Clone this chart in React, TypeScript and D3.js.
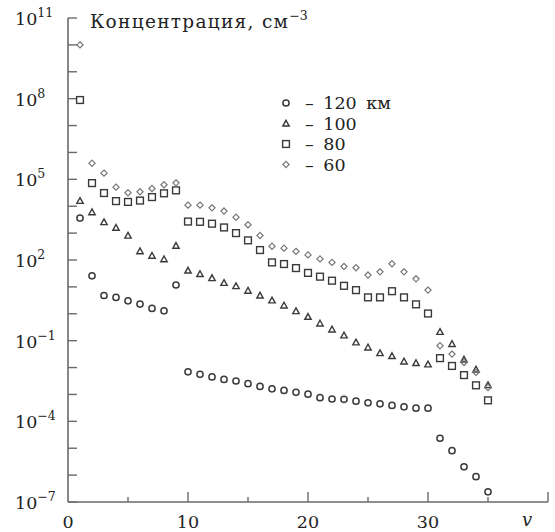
import React from 'react';
import * as d3 from 'd3';

// v = 1..35, concentration stored as log10 values (cm^-3)
const vValues = d3.range(1, 36);

const km120 = [3.56, 1.41, 0.68, 0.61, 0.48, 0.36, 0.2, 0.11, 1.07, -2.16, -2.25, -2.35, -2.44, -2.5, -2.6, -2.7, -2.79, -2.85, -2.92, -2.99, -3.12, -3.17, -3.18, -3.25, -3.31, -3.35, -3.41, -3.46, -3.51, -3.51, -4.63, -5.09, -5.69, -6.06, -6.62];
const km100 = [4.2, 3.78, 3.41, 3.2, 2.91, 2.33, 2.16, 2.03, 2.53, 1.61, 1.48, 1.33, 1.15, 1.03, 0.86, 0.68, 0.5, 0.31, 0.1, -0.11, -0.36, -0.58, -0.8, -1.06, -1.25, -1.46, -1.57, -1.77, -1.83, -1.88, -0.67, -1.12, -1.7, -2.07, -2.65];
const km80 = [7.95, 4.86, 4.49, 4.19, 4.16, 4.21, 4.34, 4.48, 4.59, 3.43, 3.42, 3.35, 3.21, 3.0, 2.73, 2.37, 1.91, 1.85, 1.7, 1.52, 1.38, 1.23, 1.04, 0.88, 0.61, 0.61, 0.84, 0.61, 0.35, 0.01, -1.65, -1.94, -2.28, -2.66, -3.22];
const km60 = [10.0, 5.6, 5.23, 4.71, 4.5, 4.54, 4.66, 4.8, 4.87, 4.04, 4.04, 3.94, 3.82, 3.59, 3.31, 2.91, 2.51, 2.44, 2.32, 2.19, 2.04, 1.91, 1.76, 1.71, 1.44, 1.56, 1.86, 1.56, 1.3, 0.88, -1.19, -1.5, -1.81, -2.18, -2.74];

const seriesNames = ['– 120 км', '– 100', '– 80', '– 60'];
const seriesData = [km120, km100, km80, km60];
const seriesMarks = ['circle', 'triangle', 'square', 'diamond'];

const yMajorExp = [-7, -4, -1, 2, 5, 8, 11];
const yMinorExp = d3.range(-7, 12);
const xMajor = [10, 20, 30, 40];
const xMinor = [5, 15, 25, 35];
const xLabels = [0, 10, 20, 30];

const W = 555;
const H = 532;
const FONT = 'DejaVu Serif';

const x = d3.scaleLinear().domain([0, 40]).range([68, 548]);
const y = d3.scaleLog().domain([1e-7, 1e11]).range([502, 18]);

const AX = '#6a6a6a';
const MK = '#3a3a3a';

function Marker({ kind, cx, cy }: { kind: string; cx: number; cy: number }) {
  if (kind === 'circle') {
    return <circle cx={cx} cy={cy} r={3.1} fill="none" stroke={MK} strokeWidth={1.5} />;
  }
  if (kind === 'square') {
    return <rect x={cx - 3.4} y={cy - 3.4} width={6.8} height={6.8} fill="none" stroke={MK} strokeWidth={1.4} />;
  }
  if (kind === 'triangle') {
    const s = 3.2;
    return (
      <path
        d={`M${cx},${cy - s}L${cx + s},${cy + s * 0.8}L${cx - s},${cy + s * 0.8}Z`}
        fill="none"
        stroke={MK}
        strokeWidth={1.4}
      />
    );
  }
  const s = 3.1;
  return (
    <path
      d={`M${cx},${cy - s}L${cx + s},${cy}L${cx},${cy + s}L${cx - s},${cy}Z`}
      fill="none"
      stroke="#777"
      strokeWidth={1.2}
    />
  );
}

export default function App() {
  const x0 = x(0);
  const y0 = y(1e-7);
  return (
    <div style={{ position: 'absolute', left: 0, top: 0 }}>
      <svg width={W} height={H} style={{ display: 'block', background: '#fff' }}>
        {/* axes */}
        <line x1={x0} x2={x0} y1={y(1e11)} y2={y0} stroke={AX} strokeWidth={1.6} />
        <line x1={x0} x2={x(40)} y1={y0} y2={y0} stroke={AX} strokeWidth={1.6} />
        {yMinorExp.map(e => (
          <line key={'yt' + e} x1={x0} x2={x0 + 9} y1={y(Math.pow(10, e))} y2={y(Math.pow(10, e))} stroke={AX} strokeWidth={1.4} />
        ))}
        {xMajor.map(v => (
          <line key={'xM' + v} x1={x(v)} x2={x(v)} y1={y0} y2={y0 - 10} stroke={AX} strokeWidth={1.4} />
        ))}
        {xMinor.map(v => (
          <line key={'xm' + v} x1={x(v)} x2={x(v)} y1={y0} y2={y0 - 5} stroke={AX} strokeWidth={1.4} />
        ))}

        <g style={{ fontFamily: FONT }} fill="#222">
          {/* y tick labels */}
          {yMajorExp.map(e => (
            <text key={'yl' + e} x={15} y={y(Math.pow(10, e)) + 7} fontSize={17.5}>
              10
              <tspan fontSize={12.5} dy={-8}>{e < 0 ? '−' + Math.abs(e) : e}</tspan>
            </text>
          ))}

          {/* x tick labels */}
          {xLabels.map(v => (
            <text key={'xl' + v} x={x(v)} y={528} fontSize={17.5} textAnchor="middle">
              {v}
            </text>
          ))}
          <text x={527} y={526} fontSize={18} fontStyle="italic" textAnchor="middle">v</text>

          {/* title */}
          <text x={90} y={28} fontSize={18.5} letterSpacing={1.3}>
            Концентрация, см
            <tspan fontSize={12.5} dy={-8} letterSpacing={0}>−3</tspan>
          </text>

          {/* legend labels */}
          {seriesNames.map((name, i) => (
            <text key={'lt' + i} x={305} y={109 + i * 20.5} fontSize={17.5} wordSpacing={4}>{name}</text>
          ))}
        </g>

        {/* data */}
        {seriesData.map((arr, si) => (
          <g key={'s' + si}>
            {arr.map((e, i) => (
              <Marker key={i} kind={seriesMarks[si]} cx={x(vValues[i])} cy={y(Math.pow(10, e))} />
            ))}
          </g>
        ))}

        {/* legend markers */}
        {seriesMarks.map((m, i) => (
          <Marker key={'lm' + i} kind={m} cx={286} cy={103 + i * 20.5} />
        ))}
      </svg>
    </div>
  );
}
